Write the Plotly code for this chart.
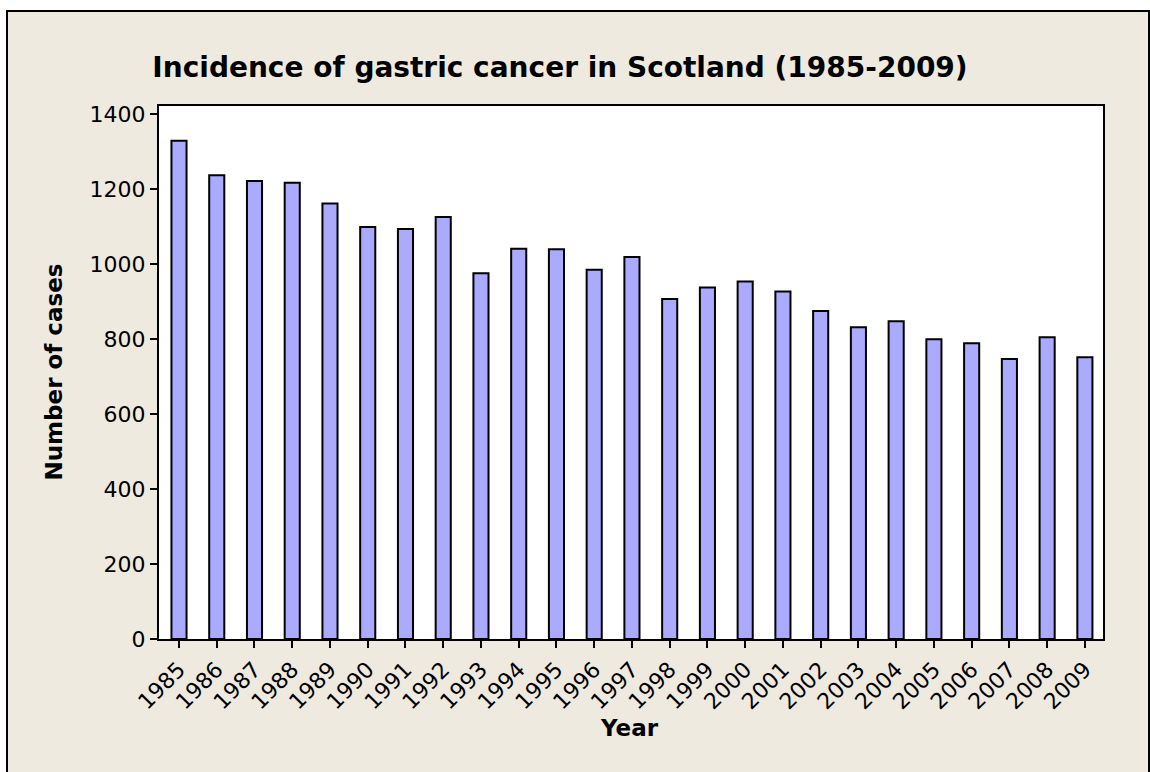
import plotly.graph_objs as go

years = [str(y) for y in range(1985, 2010)]
cases = [1329, 1237, 1222, 1217, 1162, 1099, 1094, 1126, 976, 1041,
         1040, 985, 1019, 907, 938, 954, 927, 875, 832, 848,
         800, 789, 747, 805, 752]

fig = go.Figure()

fig.add_trace(
    go.Bar(
        x=years,
        y=cases,
        width=0.4,
        marker_color='rgb(170,170,255)',
        marker_line_color='black',
        marker_line_width=2,
    )
)

W, H = 1150, 772
L, R, T, B = 159, 47, 106, 133
pw, ph = W - L - R, H - T - B

def px(x):
    return (x - L) / pw

def py(y):
    return (H - B - y) / ph

fig.update_layout(
    width=W,
    height=H,
    margin=dict(l=L, r=R, t=T, b=B),
    paper_bgcolor='white',
    plot_bgcolor='white',
    showlegend=False,
    font=dict(family="DejaVu Sans", color='black'),
    title=dict(
        text="<b>Incidence of gastric cancer in Scotland (1985-2009)</b>",
        font=dict(family="DejaVu Sans", size=28, color='black'),
        x=560 / W,
        xanchor='center',
        y=1 - 67 / H,
        yanchor='middle'
    ),
    xaxis=dict(
        type='category',
        range=[-0.53, 24.48],
        showline=True,
        linecolor='black',
        linewidth=2,
        mirror=True,
        ticks='outside',
        ticklen=7,
        tickwidth=2,
        tickcolor='black',
        tickangle=-45,
        tickfont=dict(size=22),
        showgrid=False,
        zeroline=False
    ),
    yaxis=dict(
        range=[0, 1422],
        tickvals=[0, 200, 400, 600, 800, 1000, 1200, 1400],
        showline=True,
        linecolor='black',
        linewidth=2,
        mirror=True,
        ticks='outside',
        ticklen=7,
        tickwidth=2,
        tickcolor='black',
        tickfont=dict(size=22),
        showgrid=False,
        zeroline=False
    ),
    shapes=[
        # beige outer panel with border
        dict(type='rect', xref='paper', yref='paper', layer='below',
             x0=px(7), x1=px(1149), y0=py(790), y1=py(11),
             fillcolor='rgb(238,234,224)', line=dict(color='black', width=2)),
        # white data area
        dict(type='rect', xref='paper', yref='paper', layer='below',
             x0=0, x1=1, y0=0, y1=1,
             fillcolor='white', line=dict(width=0)),
    ],
    annotations=[
        dict(text="<b>Year</b>", xref='paper', yref='paper',
             x=px(629), y=py(728), showarrow=False,
             font=dict(size=23), xanchor='center', yanchor='middle'),
        dict(text="<b>Number of cases</b>", xref='paper', yref='paper',
             x=px(53), y=0.5, showarrow=False, textangle=-90,
             font=dict(size=23), xanchor='center', yanchor='middle'),
    ]
)

fig.write_html(
    "out.html",
    config={'displayModeBar': False},
    post_script="document.body.style.margin='0';document.body.style.overflow='hidden';"
)
